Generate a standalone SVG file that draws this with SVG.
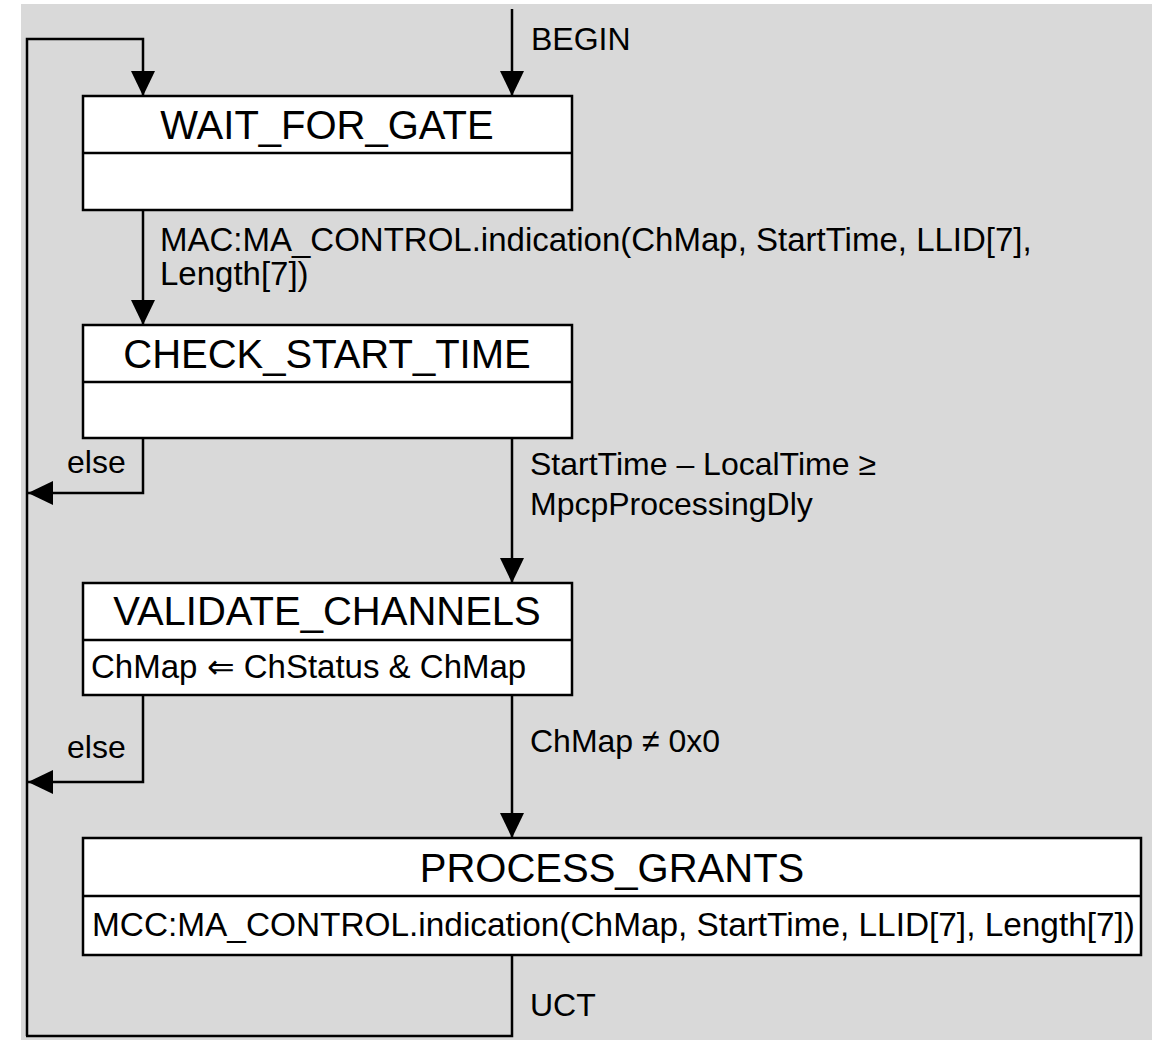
<svg xmlns="http://www.w3.org/2000/svg" width="1152" height="1043" viewBox="0 0 1152 1043">
<style>
.box{fill:#fff;stroke:#000;stroke-width:2.5}
.div{stroke:#000;stroke-width:2.5}
.ln{fill:none;stroke:#000;stroke-width:2.5}
.t{font-family:"Liberation Sans",Arial,sans-serif;font-size:40px;fill:#000;text-anchor:middle}
.a{font-family:"Liberation Sans",Arial,sans-serif;font-size:33px;fill:#000}
.l{font-family:"Liberation Sans",Arial,sans-serif;font-size:32px;fill:#000}
</style>
<defs>
<marker id="ah" markerWidth="25" markerHeight="24" refX="25" refY="12" orient="auto" markerUnits="userSpaceOnUse">
<path d="M0,0 L25,12 L0,24 Z" fill="#000"/>
</marker>
</defs>
<rect x="21" y="4" width="1131" height="1036" fill="#d9d9d9"/>
<g id="connectors">
<path class="ln" d="M27,1036 L27,39 L143,39 L143,96" marker-end="url(#ah)"/>
<path class="ln" d="M512,9 L512,96" marker-end="url(#ah)"/>
<path class="ln" d="M143,210 L143,325" marker-end="url(#ah)"/>
<path class="ln" d="M143,438 L143,493 L28,493" marker-end="url(#ah)"/>
<path class="ln" d="M512,438 L512,583" marker-end="url(#ah)"/>
<path class="ln" d="M143,695 L143,782 L28,782" marker-end="url(#ah)"/>
<path class="ln" d="M512,695 L512,838" marker-end="url(#ah)"/>
<path class="ln" d="M512,955 L512,1036 L26,1036"/>
<text class="l" x="531" y="50">BEGIN</text>
<text class="l" x="160" y="251" style="font-size:33px">MAC:MA_CONTROL.indication(ChMap, StartTime, LLID[7],</text>
<text class="l" x="160" y="285" style="font-size:33px">Length[7])</text>
<text class="l" x="67" y="473">else</text>
<text class="l" x="530" y="475">StartTime – LocalTime ≥</text>
<text class="l" x="530" y="515">MpcpProcessingDly</text>
<text class="l" x="67" y="758">else</text>
<text class="l" x="530" y="752">ChMap ≠ 0x0</text>
<text class="l" x="530" y="1016">UCT</text>
</g>
<g id="WAIT_FOR_GATE">
<rect class="box" x="83" y="96" width="489" height="114"/>
<line class="div" x1="83" y1="153" x2="572" y2="153"/>
<text class="t" x="327" y="139">WAIT_FOR_GATE</text>
</g>
<g id="CHECK_START_TIME">
<rect class="box" x="83" y="325" width="489" height="113"/>
<line class="div" x1="83" y1="382" x2="572" y2="382"/>
<text class="t" x="327" y="368">CHECK_START_TIME</text>
</g>
<g id="VALIDATE_CHANNELS">
<rect class="box" x="83" y="583" width="489" height="112"/>
<line class="div" x1="83" y1="640" x2="572" y2="640"/>
<text class="t" x="327" y="625">VALIDATE_CHANNELS</text>
<text class="a" x="91" y="678">ChMap ⇐ ChStatus &amp; ChMap</text>
</g>
<g id="PROCESS_GRANTS">
<rect class="box" x="83" y="838" width="1058" height="117"/>
<line class="div" x1="83" y1="896" x2="1141" y2="896"/>
<text class="t" x="612" y="882">PROCESS_GRANTS</text>
<text class="a" x="92" y="936" textLength="1043" lengthAdjust="spacingAndGlyphs">MCC:MA_CONTROL.indication(ChMap, StartTime, LLID[7], Length[7])</text>
</g>
</svg>
